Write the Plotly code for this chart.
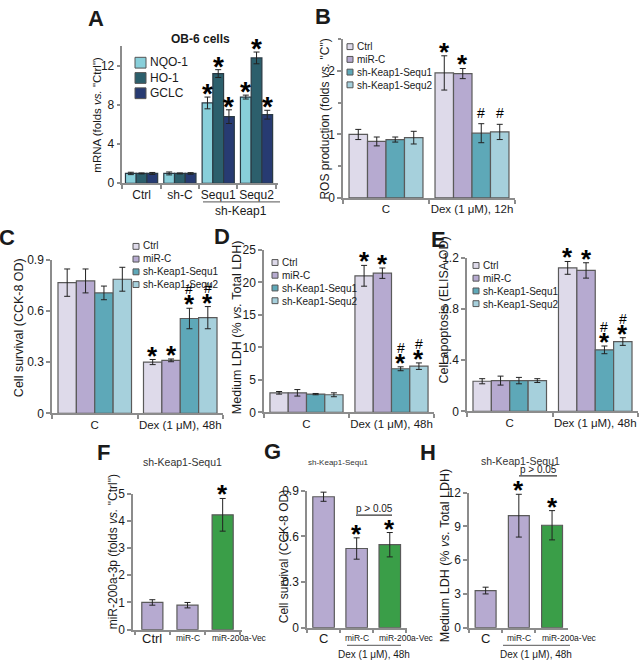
import plotly.graph_objects as go

W, H = 640, 668
FONT = "Liberation Sans, Arial, Helvetica, sans-serif"
AX = "#8c8c8c"
EDGE = "#5a5a5a"
TXT = "#1a1a1a"

# ---------------- Panel A data ----------------
a_groups = ["Ctrl", "sh-C", "Sequ1", "Sequ2"]
a_names = ["NQO-1", "HO-1", "GCLC"]
a_nqo1 = [1.0, 1.0, 8.2, 8.8]
a_nqo1_err = [0.12, 0.15, 0.6, 0.2]
a_ho1 = [1.0, 1.0, 11.2, 12.8]
a_ho1_err = [0.05, 0.05, 0.4, 0.6]
a_gclc = [1.0, 1.0, 6.8, 7.0]
a_gclc_err = [0.1, 0.08, 0.7, 0.45]
a_marks = ["", "", "*", "*"]
a_colors = ["#88cfda", "#2c5f6c", "#273b72"]

# ---------------- Panels B-E data ----------------
grp_names = ["Ctrl", "miR-C", "sh-Keap1-Sequ1", "sh-Keap1-Sequ2"]
grp_colors = ["#dedaea", "#b6aad0", "#5ea8b8", "#a6d0dc"]

b_groups = ["C", "Dex (1 μM), 12h"]
b_ctrl = [1.0, 1.97]; b_ctrl_err = [0.08, 0.27]
b_mirc = [0.89, 1.96]; b_mirc_err = [0.07, 0.08]
b_seq1 = [0.92, 1.02]; b_seq1_err = [0.04, 0.15]
b_seq2 = [0.95, 1.04]; b_seq2_err = [0.10, 0.12]
b_marks = [["", "*"], ["", "*"], ["", "#"], ["", "#"]]

c_groups = ["C", "Dex (1 μM), 48h"]
c_ctrl = [0.765, 0.30]; c_ctrl_err = [0.08, 0.015]
c_mirc = [0.775, 0.31]; c_mirc_err = [0.07, 0.008]
c_seq1 = [0.705, 0.555]; c_seq1_err = [0.04, 0.06]
c_seq2 = [0.785, 0.56]; c_seq2_err = [0.07, 0.065]
c_marks = [["", "*"], ["", "*"], ["", "#*"], ["", "#*"]]

d_groups = ["C", "Dex (1 μM), 48h"]
d_ctrl = [3.0, 21.0]; d_ctrl_err = [0.2, 1.6]
d_mirc = [3.0, 21.4]; d_mirc_err = [0.5, 0.8]
d_seq1 = [2.8, 6.7]; d_seq1_err = [0.1, 0.3]
d_seq2 = [2.7, 7.1]; d_seq2_err = [0.3, 0.5]
d_marks = [["", "*"], ["", "*"], ["", "#*"], ["", "#*"]]

e_groups = ["C", "Dex (1 μM), 48h"]
e_ctrl = [0.235, 1.12]; e_ctrl_err = [0.02, 0.05]
e_mirc = [0.24, 1.10]; e_mirc_err = [0.035, 0.06]
e_seq1 = [0.24, 0.48]; e_seq1_err = [0.025, 0.03]
e_seq2 = [0.24, 0.545]; e_seq2_err = [0.015, 0.03]
e_marks = [["", "*"], ["", "*"], ["", "#*"], ["", "#*"]]

# ---------------- Panels F-H data ----------------
fgh_cats_f = ["Ctrl", "miR-C", "miR-200a-Vec"]
fgh_cats_gh = ["C", "miR-C", "miR-200a-Vec"]
fgh_colors = ["#b6aad0", "#b6aad0", "#3a9e48"]
f_vals = [1.0, 0.9, 4.22]; f_err = [0.1, 0.1, 0.6]
f_marks = ["", "", "*"]
g_vals = [0.86, 0.52, 0.545]; g_err = [0.03, 0.07, 0.08]
g_marks = ["", "*", "*"]
h_vals = [3.3, 9.95, 9.1]; h_err = [0.3, 1.9, 1.3]
h_marks = ["", "*", "*"]

fig = go.Figure()
layout = {}
annotations = []
shapes = []


def px_x(p):
    return p / W


def px_y(p):
    return 1 - p / H


def refs(i):
    return ("x" if i == 1 else f"x{i}"), ("y" if i == 1 else f"y{i}")


def setup(i, xpx, ypx, xr, yr, xticks, xtext, xminor, ydtick, ytickfont=12,
          xtickfont=11.5, yminor=None):
    xa = "xaxis" if i == 1 else f"xaxis{i}"
    ya = "yaxis" if i == 1 else f"yaxis{i}"
    layout[xa] = dict(domain=[px_x(xpx[0]), px_x(xpx[1])], range=xr,
                      anchor=f"y{i}", showline=True, linecolor=AX, linewidth=1.5,
                      ticks="", tickmode="array", tickvals=xticks, ticktext=xtext,
                      tickangle=0, showgrid=False, zeroline=False, fixedrange=True,
                      tickfont=dict(size=xtickfont, color=TXT, family=FONT),
                      minor=dict(tickmode="array", tickvals=xminor, ticks="outside",
                                 ticklen=4, tickcolor=AX, tickwidth=1.5, showgrid=False))
    yd = dict(domain=[px_y(ypx[1]), px_y(ypx[0])], range=yr,
              anchor=f"x{i}", showline=True, linecolor=AX, linewidth=1.5,
              ticks="outside", ticklen=4, tickcolor=AX, tickwidth=1.5,
              showgrid=False, zeroline=False, fixedrange=True, tick0=0, dtick=ydtick,
              tickfont=dict(size=ytickfont, color=TXT, family=FONT))
    if yminor:
        yd["minor"] = dict(dtick=yminor, ticks="outside", ticklen=3, tickcolor=AX,
                           tickwidth=1.5, showgrid=False)
    layout[ya] = yd


def add_mark(i, x, y, mark, star_size=26, hash_size=14, star_shift=-13):
    if not mark:
        return
    xr, yr = refs(i)
    if "*" in mark:
        annotations.append(dict(x=x, y=y, xref=xr, yref=yr, text="<b>*</b>",
                                showarrow=False, yanchor="bottom", yshift=star_shift,
                                font=dict(size=star_size, color="black", family=FONT)))
    if "#" in mark:
        shift = 1 if "*" not in mark else 9
        annotations.append(dict(x=x, y=y, xref=xr, yref=yr, text="#",
                                showarrow=False, yanchor="bottom", yshift=shift,
                                font=dict(size=hash_size, color="black", family=FONT)))


def bars(i, xs, ys, errs, color, name, width, edge=EDGE):
    xr, yr = refs(i)
    fig.add_trace(go.Bar(x=xs, y=ys, width=width, name=name, xaxis=xr, yaxis=yr,
                         marker=dict(color=color, line=dict(color=edge, width=1.2)),
                         error_y=dict(type="data", array=errs, visible=True,
                                      color="#222222", thickness=1, width=3),
                         showlegend=False))


def ytitle(x, y, t, size=12.5):
    annotations.append(dict(x=px_x(x), y=px_y(y), xref="paper", yref="paper",
                            text=t, textangle=-90, showarrow=False,
                            xanchor="center", yanchor="middle",
                            font=dict(size=size, color=TXT, family=FONT)))


def text(x, y, t, size=11, bold=False, xanchor="center", color=TXT):
    annotations.append(dict(x=px_x(x), y=px_y(y), xref="paper", yref="paper",
                            text=(f"<b>{t}</b>" if bold else t), showarrow=False,
                            xanchor=xanchor, yanchor="middle",
                            font=dict(size=size, color=color, family=FONT)))


def hline(x0, x1, y, color="#333333", w=1.2):
    shapes.append(dict(type="line", xref="paper", yref="paper",
                       x0=px_x(x0), x1=px_x(x1), y0=px_y(y), y1=px_y(y),
                       line=dict(color=color, width=w)))


def legend(x, ymid, names, colors, box=6, tsize=10):
    step = 1.3 * tsize
    n = len(names)
    for k, (nm, col) in enumerate(zip(names, colors)):
        yy = ymid + (k - (n - 1) / 2) * step
        shapes.append(dict(type="rect", xref="paper", yref="paper",
                           x0=px_x(x), x1=px_x(x + box), y0=px_y(yy + box / 2),
                           y1=px_y(yy - box / 2), fillcolor=col,
                           line=dict(color="#555555", width=1)))
    annotations.append(dict(x=px_x(x + box + 1.5), y=px_y(ymid), xref="paper",
                            yref="paper", text="<br>".join(names), showarrow=False,
                            xanchor="left", yanchor="middle", align="left",
                            font=dict(size=tsize, color=TXT, family=FONT)))


# ---------------- Panel A ----------------
setup(1, (122.4, 278), (40, 180), [-0.5, 3.56], [0, 14],
      list(range(len(a_groups))), a_groups, [-0.5, 0.5, 1.5, 2.5, 3.5], 4,
      ytickfont=12, xtickfont=12)
a_series = [(a_nqo1, a_nqo1_err), (a_ho1, a_ho1_err), (a_gclc, a_gclc_err)]
bw_a = 0.28
for s, ((vals, errs), col, nm) in enumerate(zip(a_series, a_colors, a_names)):
    off = (s - 1) * bw_a
    xs = [g + off for g in range(len(a_groups))]
    bars(1, xs, vals, errs, col, nm, bw_a, edge="#2a3a44")
    for x, v, e, m in zip(xs, vals, errs, a_marks):
        add_mark(1, x, v + e, m, star_size=28, star_shift=-14)
legend(135, 72.5, a_names, a_colors, box=11, tsize=12)
text(200, 33, "OB-6 cells", size=12, bold=True)
text(96, 12, "A", size=22, bold=True)
ytitle(97, 110, "mRNA (folds <i>vs.</i> \"Ctrl\")", size=11.5)
hline(203, 280, 199, color="#777777")
text(241, 208, "sh-Keap1", size=12)

# ---------------- Panels B-E ----------------
bw = 0.215


def group_panel(i, groups, series, errs_list, marks, xpx, ypx, yr, ydtick,
                yminor=None):
    setup(i, xpx, ypx, [-0.5, 1.5], yr, list(range(len(groups))), groups,
          [-0.5, 0.5, 1.5], ydtick, yminor=yminor)
    n = len(series)
    for s in range(n):
        off = (s - (n - 1) / 2) * bw
        xs = [g + off for g in range(len(groups))]
        bars(i, xs, series[s], errs_list[s], grp_colors[s], grp_names[s], bw)
        for x, v, e, m in zip(xs, series[s], errs_list[s], marks[s]):
            add_mark(i, x, v + e, m)


group_panel(2, b_groups, [b_ctrl, b_mirc, b_seq1, b_seq2],
            [b_ctrl_err, b_mirc_err, b_seq1_err, b_seq2_err], b_marks,
            (343, 515), (33, 195), [0, 2.5], 1, yminor=0.5)
legend(347, 60, grp_names, grp_colors)
text(323, 10, "B", size=22, bold=True)
ytitle(325, 115, "ROS production (folds <i>vs.</i> \"C\")", size=12)

group_panel(3, c_groups, [c_ctrl, c_mirc, c_seq1, c_seq2],
            [c_ctrl_err, c_mirc_err, c_seq1_err, c_seq2_err], c_marks,
            (52, 223), (258, 415), [0, 0.9], 0.3)
legend(133, 264, grp_names, grp_colors)
text(7, 235, "C", size=22, bold=True)
ytitle(19, 328, "Cell survival (CCK-8 OD)", size=12.5)

group_panel(4, d_groups, [d_ctrl, d_mirc, d_seq1, d_seq2],
            [d_ctrl_err, d_mirc_err, d_seq1_err, d_seq2_err], d_marks,
            (264, 434), (248, 414), [0, 25], 5)
legend(272, 280.5, grp_names, grp_colors)
text(222, 234, "D", size=22, bold=True)
ytitle(237, 328, "Medium LDH (% <i>vs.</i> Total LDH)", size=12.5)

group_panel(5, e_groups, [e_ctrl, e_mirc, e_seq1, e_seq2],
            [e_ctrl_err, e_mirc_err, e_seq1_err, e_seq2_err], e_marks,
            (467, 638), (256, 413), [0, 1.2], 0.4)
legend(473, 283.5, grp_names, grp_colors)
text(438, 237, "E", size=22, bold=True)
ytitle(444, 310, "Cell apoptosis (ELISA OD)", size=12.5)


# ---------------- Panels F-H ----------------
def single_panel(i, cats, vals, errs, marks, xpx, ypx, xr, yr, ydtick, bwid):
    setup(i, xpx, ypx, xr, yr, [], [], [-0.5, 0.5, 1.5, 2.5], ydtick,
          ytickfont=12)
    xs = list(range(len(cats)))
    bars(i, xs, vals, errs, fgh_colors, "values", bwid)
    for x, v, e, m in zip(xs, vals, errs, marks):
        add_mark(i, x, v + e, m)
    xr_, _ = refs(i)
    for x, c in zip(xs, cats):
        long = len(c) > 6
        annotations.append(dict(x=(x - bwid / 2 - 0.05) if long else x, y=px_y(645),
                                xref=xr_, yref="paper", text=c, showarrow=False,
                                xanchor="left" if long else "center", yanchor="middle",
                                font=dict(size=13 if len(c) <= 4 else 8.5,
                                          color=TXT, family=FONT)))


single_panel(6, fgh_cats_f, f_vals, f_err, f_marks, (133, 242), (497, 636),
             [-0.55, 2.55], [0, 5], 1, 0.6)
text(103, 455, "F", size=22, bold=True)
text(182, 465, "sh-Keap1-Sequ1", size=10.5, color="#333333")
ytitle(113, 557, "miR-200a-3p (folds <i>vs.</i> \"Ctrl\")", size=12)

single_panel(7, fgh_cats_gh, g_vals, g_err, g_marks, (307, 407), (494, 634),
             [-0.5, 2.52], [0, 0.9], 0.3, 0.65)
text(272, 454, "G", size=22, bold=True)
text(338, 465, "sh-Keap1-Sequ1", size=8, color="#333333")
ytitle(284, 562, "Cell survival (CCK-8 OD)", size=12)
hline(356, 392, 519)
text(374, 512, "p > 0.05", size=10)
hline(347, 401, 652, color="#777777")
text(374, 661, "Dex (1 μM), 48h", size=10)

single_panel(8, fgh_cats_gh, h_vals, h_err, h_marks, (469, 568), (496, 634),
             [-0.5, 2.48], [0, 12], 3, 0.63)
text(428, 455, "H", size=22, bold=True)
text(520, 464, "sh-Keap1-Sequ1", size=10.5, color="#333333")
ytitle(445, 561, "Medium LDH (% <i>vs.</i> Total LDH)", size=12.5)
hline(519, 557, 479)
text(538, 472, "p > 0.05", size=10)
hline(503, 570, 652, color="#777777")
text(536, 661, "Dex (1 μM), 48h", size=10)

layout.update(dict(width=W, height=H, margin=dict(l=0, r=0, t=0, b=0),
                   paper_bgcolor="white", plot_bgcolor="white",
                   barmode="overlay", showlegend=False,
                   font=dict(family=FONT, color=TXT),
                   annotations=annotations, shapes=shapes))
fig.update_layout(**layout)
fig.write_html("out.html", include_plotlyjs=True, config=dict(displayModeBar=False),
               post_script="document.body.style.margin='0';"
                           "document.body.style.overflow='hidden';")
